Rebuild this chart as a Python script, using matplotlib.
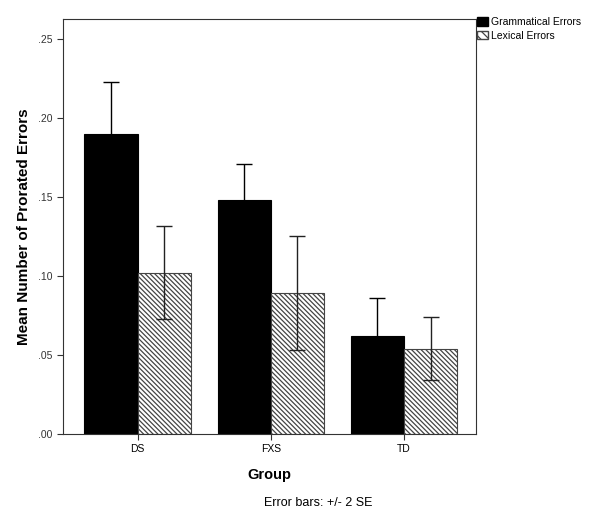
import matplotlib
matplotlib.use("Agg")
import matplotlib.pyplot as plt
from matplotlib.patches import Patch
import numpy as np

plt.rcParams['font.family'] = ['Liberation Sans', 'DejaVu Sans']
plt.rcParams['hatch.linewidth'] = 0.9

groups = ["DS", "FXS", "TD"]
series_names = ["Grammatical Errors", "Lexical Errors"]
grammatical = [0.190, 0.148, 0.062]
grammatical_err = [0.033, 0.023, 0.024]
lexical = [0.102, 0.089, 0.054]
lexical_err = [0.0295, 0.036, 0.020]
yticks = [0.00, 0.05, 0.10, 0.15, 0.20, 0.25]
ytick_labels = [".00", ".05", ".10", ".15", ".20", ".25"]

HATCH = "\\" * 7

fig = plt.figure(figsize=(6.01, 5.30), dpi=100)
ax = fig.add_axes([63/601, 1-434/530, (476-63)/601, (434-19)/530])

x = np.arange(len(groups))
w = 0.4
ax.bar(x - w/2, grammatical, width=w, color="black", edgecolor="black", linewidth=0.8, zorder=2)
ax.bar(x + w/2, lexical, width=w, color="white", edgecolor="#444444", hatch=HATCH, linewidth=0.8, zorder=2)
ax.errorbar(x - w/2, grammatical, yerr=grammatical_err, fmt="none", ecolor="black",
            elinewidth=1.0, capsize=6, capthick=1.0, zorder=3)
ax.errorbar(x + w/2, lexical, yerr=lexical_err, fmt="none", ecolor="#222222",
            elinewidth=1.0, capsize=6, capthick=1.0, zorder=3)

ax.set_xlim(-0.56, 2.54)
ax.set_ylim(0, 0.2626)
ax.set_xticks(x)
ax.set_xticklabels(groups, fontsize=7.5)
ax.set_yticks(yticks)
ax.set_yticklabels(ytick_labels, fontsize=7.5, color="#333333")
ax.tick_params(axis="both", direction="out", length=4, width=0.8, color="#333333")
for s in ax.spines.values():
    s.set_linewidth(0.8)
    s.set_color("#333333")

ax.set_xlabel("Group", fontsize=10.5, fontweight="bold", labelpad=10)
ax.set_ylabel("Mean Number of Prorated Errors", fontsize=11, fontweight="bold")
ax.yaxis.set_label_coords(-(63-31)/413, 0.5)

handles = [Patch(facecolor="black", edgecolor="black", label=series_names[0]),
           Patch(facecolor="white", edgecolor="#444444", hatch="\\\\\\\\", label=series_names[1])]
fig.legend(handles=handles, loc="upper left", bbox_to_anchor=(477/601, 1-17/530),
           frameon=False, fontsize=7.5, handlelength=1.1, handleheight=0.9,
           handletextpad=0.2, labelspacing=0.35, borderpad=0, borderaxespad=0)

fig.text(318/601, 1-503/530, "Error bars: +/- 2 SE", ha="center", va="center", fontsize=9)

fig.savefig("out.png", dpi=100)
